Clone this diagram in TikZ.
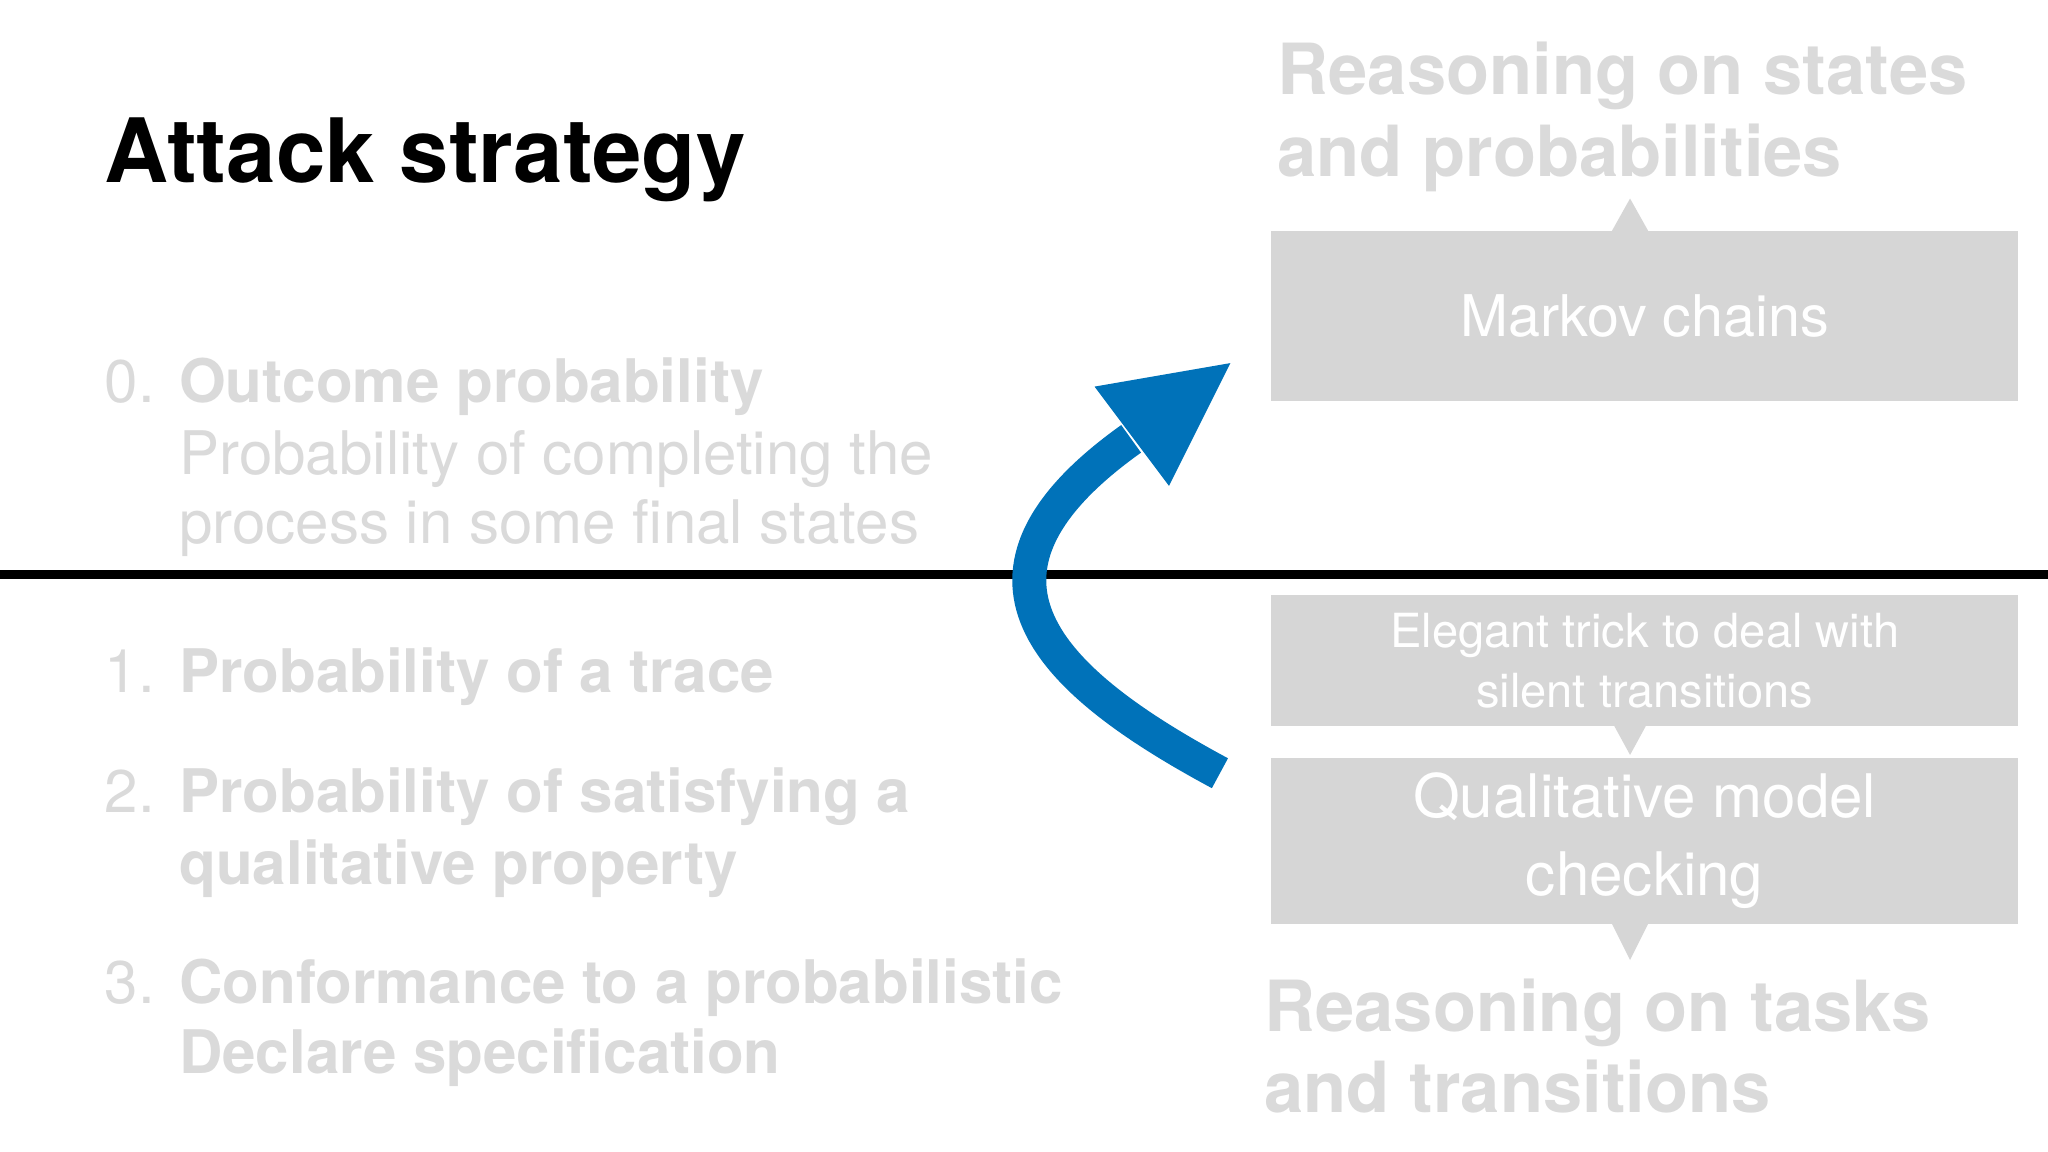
\documentclass[tikz,border=0pt]{standalone}
\usepackage{fontspec}
\setmainfont{TeX Gyre Heros}
\definecolor{lg}{RGB}{218,218,218}
\definecolor{bx}{RGB}{214,214,214}
\definecolor{blu}{RGB}{0,114,185}
\begin{document}
\begin{tikzpicture}[x=1pt,y=-1pt,
  txt/.style={anchor=base west,inner sep=0,text=lg,font=\fontsize{46}{50}\selectfont},
  box/.style={fill=bx,draw=none,text=white,align=center},
  tri/.style={fill=bx,draw=none}]
\useasboundingbox (0,0) rectangle (1568,882);
\fill[white] (0,0) rectangle (1568,882);
\node[anchor=base west,inner sep=0,font=\fontsize{68}{70}\selectfont\bfseries] (title) at (80,140) {Attack strategy};
\node[txt] (n0) at (80,308) {0.};
\node[txt,font=\fontsize{46}{50}\selectfont\bfseries] (o0) at (137,308) {Outcome probability};
\node[txt] (o0a) at (137,363) {Probability of completing the};
\node[txt] (o0b) at (137,416) {process in some final states};
\draw[line width=7pt] (0,440) -- (1568,440);
\node[txt] (n1) at (80,530) {1.};
\node[txt,font=\fontsize{46}{50}\selectfont\bfseries] (o1) at (137,530) {Probability of a trace};
\node[txt] (n2) at (80,622) {2.};
\node[txt,font=\fontsize{46}{50}\selectfont\bfseries] (o2) at (137,622) {Probability of satisfying a};
\node[txt,font=\fontsize{46}{50}\selectfont\bfseries] (o2b) at (137,677) {qualitative property};
\node[txt] (n3) at (80,768) {3.};
\node[txt,font=\fontsize{46}{50}\selectfont\bfseries] (o3) at (137,768) {Conformance to a probabilistic};
\node[txt,font=\fontsize{46}{50}\selectfont\bfseries] (o3b) at (137,822) {Declare specification};
% right side
\node[txt,font=\fontsize{54}{58}\selectfont\bfseries] (r1) at (978,72) {Reasoning on states};
\node[txt,font=\fontsize{54}{58}\selectfont\bfseries] (r1b) at (978,135) {and probabilities};
\fill[tri] (1234,177) -- (1248,152) -- (1262,177) -- cycle;
\node[box,minimum width=572pt,minimum height=130pt,anchor=north west,font=\fontsize{44}{48}\selectfont] (mc) at (973,177) {Markov chains};
\node[box,minimum width=572pt,minimum height=101pt,anchor=north west,font=\fontsize{36}{46}\selectfont] (et) at (973,455) {Elegant trick to deal with\\silent transitions};
\fill[tri] (1236,556) -- (1248,578) -- (1260,556) -- cycle;
\node[box,minimum width=572pt,minimum height=127pt,anchor=north west,font=\fontsize{46}{60}\selectfont] (qm) at (973,580) {Qualitative model\\checking};
\fill[tri] (1234,707) -- (1248,735) -- (1262,707) -- cycle;
\node[txt,font=\fontsize{54}{58}\selectfont\bfseries] (r2) at (968,790) {Reasoning on tasks};
\node[txt,font=\fontsize{54}{58}\selectfont\bfseries] (r2b) at (968,852) {and transitions};
% blue arrow
\coordinate (s) at (934,592);
\coordinate (e) at (866,336);
\draw[blu,line width=26pt] (s) .. controls (800,520) and (720,440) .. (e);
\fill[blu] (838,296) -- (942,278) -- (895,372) -- cycle;
\end{tikzpicture}
\end{document}
